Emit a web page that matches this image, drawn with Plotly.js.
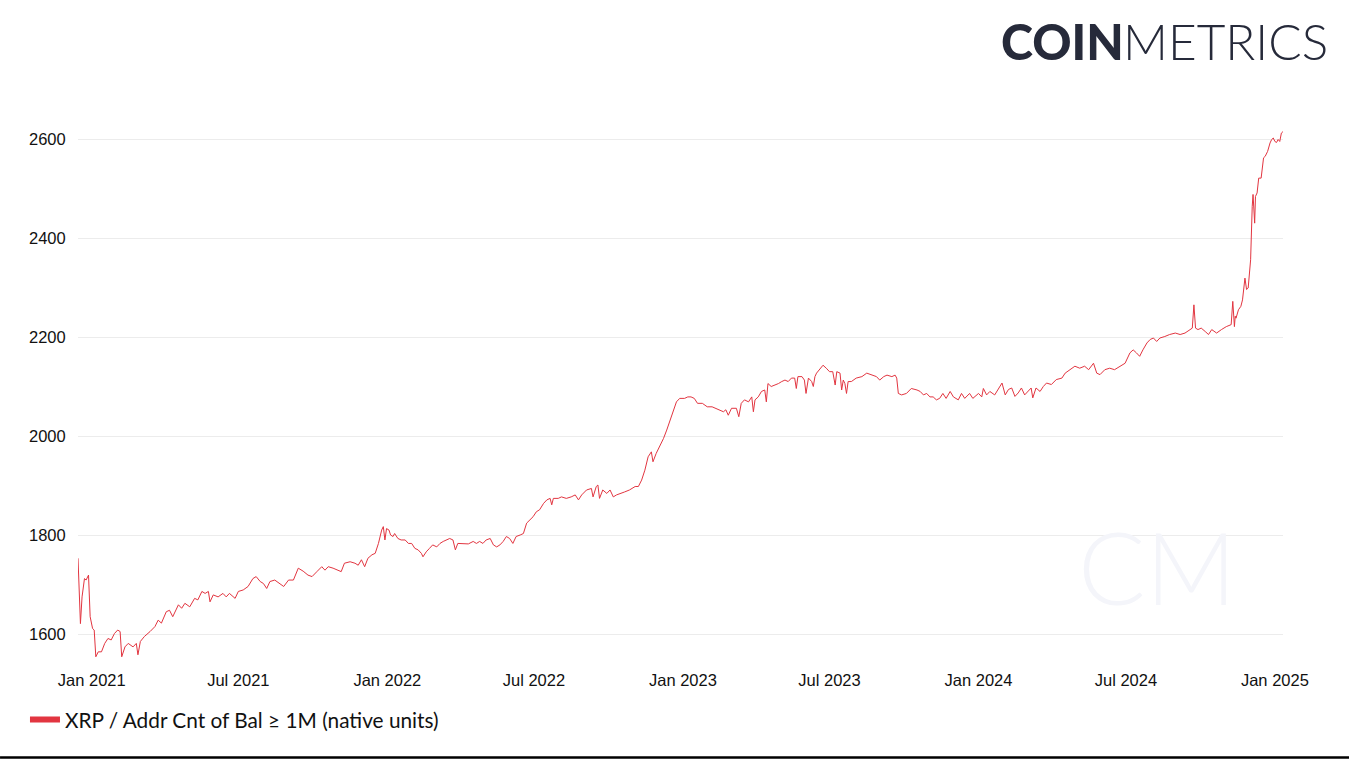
<!DOCTYPE html>
<html>
<head>
<meta charset="utf-8">
<script src="https://cdn.plot.ly/plotly-3.0.1.min.js"></script>
<style>
html,body{margin:0;padding:0;background:#fff;}
#chart{width:1349px;height:764px;}
</style>
</head>
<body>
<div id="chart"></div>
<script>
const seriesName = "XRP / Addr Cnt of Bal \u2265 1M (native units)";
const dates = [
"2020-12-15","2020-12-18","2020-12-20","2020-12-23","2020-12-25","2020-12-28","2020-12-30",
"2021-01-02","2021-01-04","2021-01-06","2021-01-09","2021-01-13","2021-01-17","2021-01-21","2021-01-25","2021-01-29",
"2021-02-02","2021-02-05","2021-02-07","2021-02-11","2021-02-15","2021-02-21","2021-02-25","2021-02-27",
"2021-03-02","2021-03-07","2021-03-14","2021-03-20","2021-03-24","2021-03-28",
"2021-04-03","2021-04-07","2021-04-11","2021-04-18","2021-04-22","2021-04-26",
"2021-05-02","2021-05-08","2021-05-12","2021-05-17","2021-05-21","2021-05-25","2021-05-27","2021-05-31",
"2021-06-06","2021-06-12","2021-06-16","2021-06-20","2021-06-27",
"2021-07-01","2021-07-07","2021-07-13","2021-07-19","2021-07-23","2021-07-28",
"2021-08-01","2021-08-05","2021-08-09","2021-08-15","2021-08-21","2021-08-26",
"2021-09-01","2021-09-07","2021-09-13","2021-09-19","2021-09-25","2021-09-30",
"2021-10-06","2021-10-12","2021-10-16","2021-10-20","2021-10-26",
"2021-11-01","2021-11-05","2021-11-09","2021-11-16","2021-11-22","2021-11-26","2021-11-30",
"2021-12-04","2021-12-08","2021-12-13","2021-12-17","2021-12-21","2021-12-25","2021-12-27","2021-12-29","2021-12-31",
"2022-01-03","2022-01-05","2022-01-08","2022-01-10","2022-01-14","2022-01-18","2022-01-23","2022-01-27","2022-01-31",
"2022-02-04","2022-02-08","2022-02-12","2022-02-14","2022-02-18","2022-02-22","2022-02-26",
"2022-03-03","2022-03-07","2022-03-11","2022-03-15","2022-03-19","2022-03-23","2022-03-26","2022-03-29",
"2022-04-04","2022-04-11","2022-04-17","2022-04-21","2022-04-25","2022-04-29",
"2022-05-03","2022-05-08","2022-05-12","2022-05-16","2022-05-20","2022-05-24","2022-05-28",
"2022-06-01","2022-06-05","2022-06-09","2022-06-14","2022-06-18","2022-06-22","2022-06-26","2022-06-30",
"2022-07-04","2022-07-08","2022-07-13","2022-07-17","2022-07-21","2022-07-23","2022-07-25","2022-07-31",
"2022-08-04","2022-08-10","2022-08-16","2022-08-21","2022-08-25","2022-08-29",
"2022-09-04","2022-09-10","2022-09-12","2022-09-16","2022-09-18","2022-09-20","2022-09-24","2022-09-29",
"2022-10-03","2022-10-07","2022-10-11","2022-10-15","2022-10-21","2022-10-27",
"2022-11-03","2022-11-07","2022-11-11","2022-11-15","2022-11-19","2022-11-23","2022-11-25","2022-11-29",
"2022-12-03","2022-12-08","2022-12-12","2022-12-16","2022-12-20","2022-12-24","2022-12-28",
"2023-01-03","2023-01-07","2023-01-11","2023-01-15","2023-01-19","2023-01-25","2023-01-31",
"2023-02-06","2023-02-10","2023-02-14","2023-02-20","2023-02-23","2023-02-26",
"2023-03-02","2023-03-08","2023-03-11","2023-03-14","2023-03-18","2023-03-23","2023-03-27","2023-03-29","2023-03-31",
"2023-04-04","2023-04-08","2023-04-12","2023-04-14","2023-04-16","2023-04-20","2023-04-25","2023-04-29",
"2023-05-03","2023-05-07","2023-05-11","2023-05-15","2023-05-19","2023-05-21","2023-05-23","2023-05-28","2023-05-31",
"2023-06-02","2023-06-05","2023-06-09","2023-06-11","2023-06-13","2023-06-15","2023-06-18","2023-06-21","2023-06-23","2023-06-27",
"2023-07-01","2023-07-05","2023-07-08","2023-07-10","2023-07-14","2023-07-16","2023-07-18","2023-07-20","2023-07-22","2023-07-24","2023-07-28",
"2023-08-03","2023-08-10","2023-08-16","2023-08-22","2023-08-28",
"2023-09-01","2023-09-06","2023-09-10","2023-09-16","2023-09-20","2023-09-22","2023-09-24","2023-09-28",
"2023-10-04","2023-10-10","2023-10-17","2023-10-21","2023-10-25","2023-10-29",
"2023-11-02","2023-11-06","2023-11-10","2023-11-14","2023-11-18","2023-11-22","2023-11-27",
"2023-12-01","2023-12-07","2023-12-11","2023-12-15","2023-12-21","2023-12-25",
"2024-01-01","2024-01-05","2024-01-07","2024-01-11","2024-01-15","2024-01-21","2024-01-25","2024-01-30",
"2024-02-03","2024-02-07","2024-02-11","2024-02-15","2024-02-19","2024-02-23","2024-02-27",
"2024-03-02","2024-03-06","2024-03-08","2024-03-12","2024-03-17","2024-03-21","2024-03-25","2024-03-31",
"2024-04-06","2024-04-13","2024-04-17","2024-04-23","2024-04-29",
"2024-05-05","2024-05-11","2024-05-16","2024-05-22","2024-05-26","2024-05-30",
"2024-06-05","2024-06-11","2024-06-17","2024-06-24","2024-06-30",
"2024-07-06","2024-07-10","2024-07-14","2024-07-18","2024-07-22","2024-07-27","2024-07-31",
"2024-08-04","2024-08-08","2024-08-12","2024-08-18","2024-08-24","2024-08-31",
"2024-09-06","2024-09-12","2024-09-18","2024-09-21","2024-09-23","2024-09-25","2024-09-28",
"2024-10-02","2024-10-07","2024-10-11","2024-10-15","2024-10-21","2024-10-27",
"2024-11-02","2024-11-08","2024-11-10","2024-11-12","2024-11-13","2024-11-14","2024-11-17","2024-11-20","2024-11-22","2024-11-25","2024-11-27","2024-11-29","2024-11-30",
"2024-12-02","2024-12-04","2024-12-05","2024-12-07","2024-12-08","2024-12-10","2024-12-12","2024-12-15","2024-12-18","2024-12-20","2024-12-23","2024-12-26","2024-12-28","2024-12-30",
"2025-01-01","2025-01-03","2025-01-05","2025-01-07","2025-01-09","2025-01-11"
];
const values = [
1753,1621,1675,1712,1709,1719,1635,
1611,1608,1554,1564,1564,1581,1591,1588,1601,
1608,1605,1554,1574,1581,1574,1581,1558,
1585,1595,1605,1615,1628,1622,
1645,1648,1635,1659,1652,1662,
1655,1672,1669,1686,1682,1686,1665,1679,
1675,1682,1675,1682,1672,
1686,1689,1696,1712,1716,1706,
1702,1692,1706,1709,1702,1696,
1709,1709,1733,1727,1719,1716,
1726,1736,1729,1736,1733,
1729,1726,1743,1746,1743,1739,1750,
1736,1753,1760,1763,1783,1810,1817,1790,1813,
1810,1800,1797,1803,1793,1790,1790,1783,1783,
1773,1770,1763,1756,1766,1773,1780,
1776,1783,1787,1790,1793,1790,1770,1783,
1783,1782,1787,1783,1787,1783,
1790,1793,1780,1776,1780,1787,1797,
1793,1783,1797,1800,1803,1824,1830,1837,
1847,1851,1864,1871,1874,1861,1874,1874,
1877,1874,1877,1881,1871,1881,
1891,1894,1877,1898,1901,1874,1891,1884,
1891,1877,1881,1884,1887,1891,
1898,1898,1911,1931,1958,1968,1948,1965,
1978,1995,2012,2032,2053,2069,2076,
2076,2079,2079,2076,2066,2066,2059,
2059,2056,2053,2049,2053,2042,
2056,2056,2039,2066,2073,2069,2079,2049,2073,
2079,2090,2093,2069,2106,2100,2103,2106,
2110,2113,2110,2117,2117,2096,2120,2120,2113,
2086,2117,2110,2100,2120,2127,2133,2140,2143,2137,
2130,2130,2103,2130,2127,2093,2113,2106,2086,2110,2110,
2117,2120,2127,2123,2120,
2113,2120,2123,2120,2123,2117,2086,2083,
2086,2096,2093,2090,2083,2086,
2079,2079,2073,2076,2086,2076,2090,
2079,2073,2086,2076,2086,2076,
2086,2079,2096,2083,2090,2083,2094,2107,
2083,2094,2097,2080,2087,2097,2083,
2090,2097,2077,2097,2090,2100,2107,2104,
2114,2117,2127,2134,2141,
2137,2141,2134,2147,2127,2124,
2134,2137,2134,2141,2147,
2168,2174,2168,2161,2174,2188,2195,
2198,2191,2198,2201,2205,2208,
2205,2208,2215,2218,2265,2218,2215,
2218,2211,2205,2215,2208,2215,
2221,2225,2272,2221,2242,2238,2255,2262,2275,2319,2296,2299,2316,
2356,2464,2488,2430,2484,2491,2521,2521,2562,2565,2575,2592,2599,2602,
2595,2593,2599,2595,2612,2615
];
const yTicks = [1600, 1800, 2000, 2200, 2400, 2600];
const lineColor = "#e23540";

const traces = [
  {x: dates, y: values, type: "scatter", mode: "lines", name: seriesName,
   line: {color: lineColor, width: 1}, showlegend: false, hoverinfo: "skip"},
  {x: [null], y: [null], type: "scatter", mode: "lines", name: seriesName,
   line: {color: lineColor, width: 6}, showlegend: true}
];

const layout = {
  width: 1349, height: 764,
  margin: {l: 78, r: 66, t: 110, b: 104},
  paper_bgcolor: "#ffffff", plot_bgcolor: "#ffffff",
  font: {family: "Liberation Sans, Arial, sans-serif", color: "#111111"},
  xaxis: {
    type: "date",
    range: [dates[0], dates[dates.length - 1]],
    dtick: "M6", tick0: "2021-01-01", tickformat: "%b %Y",
    showgrid: false, zeroline: false, showline: false,
    ticks: "outside", ticklen: 5, tickcolor: "rgba(0,0,0,0)",
    tickfont: {size: 16.5, color: "#111"}
  },
  yaxis: {
    range: [1547.5, 2658.6],
    tickvals: yTicks,
    showgrid: true, gridcolor: "#ececec", gridwidth: 1,
    zeroline: false, showline: false,
    ticks: "outside", ticklen: 8, tickcolor: "rgba(0,0,0,0)",
    tickfont: {size: 16.5, color: "#111"}
  },
  showlegend: true,
  legend: {
    orientation: "h", x: -0.044, xanchor: "left", y: -0.109, yanchor: "middle",
    font: {family: "Lato, sans-serif", size: 20.8, color: "#111"},
    bgcolor: "rgba(0,0,0,0)"
  },
  annotations: [
    {xref: "paper", yref: "paper", x: 0.8955, y: 0.171, xanchor: "center", yanchor: "middle",
     text: "CM", showarrow: false,
     font: {family: "Lato, sans-serif", size: 100, weight: 300, color: "#f4f5fa"}},
    {xref: "paper", yref: "paper", x: 0.764, y: 1.1255, xanchor: "left", yanchor: "middle",
     text: "COIN", showarrow: false,
     font: {family: "Lato, sans-serif", size: 48.5, weight: 900, color: "#262a3a"}},
    {xref: "paper", yref: "paper", x: 0.8655, y: 1.1255, xanchor: "left", yanchor: "middle",
     text: "METRICS", showarrow: false,
     font: {family: "Lato, sans-serif", size: 49.5, weight: 300, color: "#262a3a"}}
  ],
  shapes: [
    {type: "line", xref: "paper", yref: "paper", x0: -0.0647, x1: 1.0548, y0: -0.1773, y1: -0.1773,
     line: {color: "#000000", width: 2.5}}
  ]
};

Plotly.newPlot("chart", traces, layout, {displayModeBar: false, staticPlot: true});
</script>
</body>
</html>
